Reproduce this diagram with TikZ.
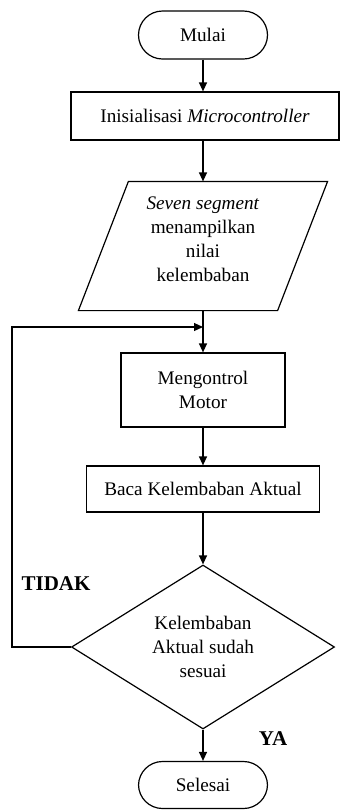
\documentclass[tikz,border=0pt]{standalone}
\usepackage{fontspec}
\setmainfont{Liberation Serif}
\usepackage{tikz}
\usetikzlibrary{positioning}
\usetikzlibrary{shapes.geometric}
\usetikzlibrary{arrows.meta}

\tikzset{
	terminal/.style={draw, rounded corners=12pt, minimum width=64.5pt, minimum height=24pt, inner sep=0pt},
	prosesbox/.style={draw, minimum height=24pt, inner sep=2pt, align=center},
	iobox/.style={minimum width=99pt, minimum height=64pt, inner sep=0pt, align=center},
	cekbox/.style={draw, diamond, aspect=1.6, minimum width=131.5pt, minimum height=82pt, inner sep=0pt, align=center},
	arr/.style={-{Triangle[length=4.5pt,width=4pt]}},
	labelya/.style={font=\fontsize{10.5}{12}\selectfont\bfseries}
}

\begin{document}
\begin{tikzpicture}[x=0.5pt, y=-0.5pt, line width=0.6pt, font=\fontsize{9.6}{12}\selectfont]
	\useasboundingbox (0,0) rectangle (341,810);
	\node[terminal] (mulai) at (203, 35) {Mulai};
	\node[prosesbox, minimum width=134pt] (init) at (205, 116) {Inisialisasi \textit{Microcontroller}};
	\node[iobox] (seven) at (203, 246) {\textit{Seven segment}\\menampilkan\\nilai\\kelembaban\\[-5pt]};
	\draw ([xshift=12.5pt]seven.north west) -- ([xshift=12.5pt]seven.north east)
		-- ([xshift=-12.5pt]seven.south east) -- ([xshift=-12.5pt]seven.south west) -- cycle;
	\node[prosesbox, minimum width=82pt, minimum height=37pt] (motor) at (203, 390) {Mengontrol\\Motor};
	\node[prosesbox, minimum width=116.5pt, minimum height=23pt] (baca) at (203, 489) {Baca Kelembaban Aktual};
	\node[cekbox] (cek) at (203, 647) {Kelembaban\\Aktual sudah\\sesuai};
	\node[terminal, minimum height=23.5pt] (selesai) at (203, 785) {Selesai};
	\node[labelya] (tidak) at (56, 584) {TIDAK};
	\node[labelya] (ya) at (273, 739) {YA};
	\coordinate (join) at (203, 327);
	\coordinate (kiri) at (12, 647);

	\draw[arr] (mulai) -- (mulai |- init.north);
	\draw[arr] (init.south -| seven) -- (seven);
	\draw[arr] (seven) -- (motor);
	\draw[arr] (motor) -- (baca);
	\draw[arr] (baca) -- (cek);
	\draw[arr] (cek) -- (selesai);
	\draw[arr] (cek.west) -- (kiri) |- (join);
\end{tikzpicture}
\end{document}
